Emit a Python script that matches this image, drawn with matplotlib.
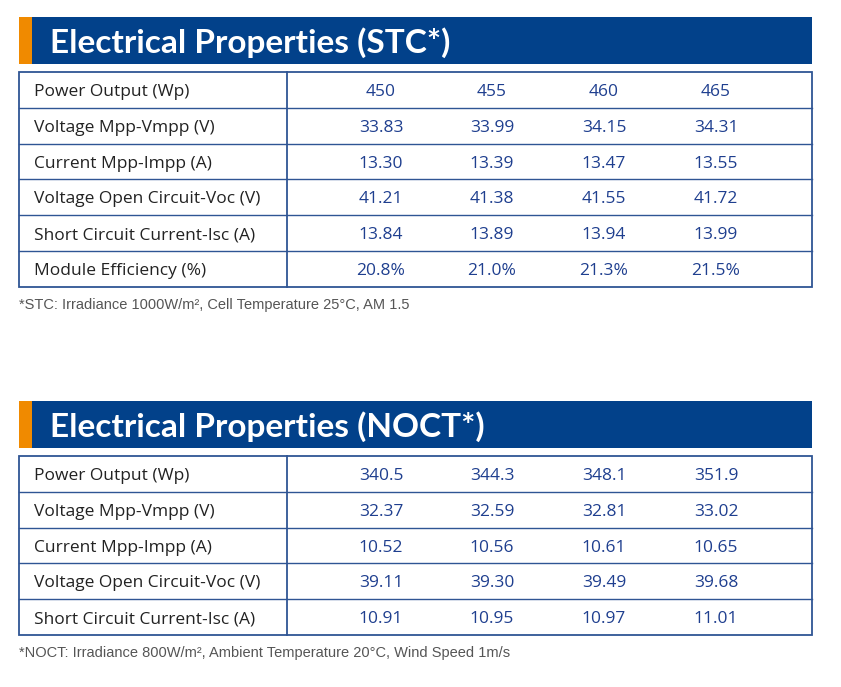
import matplotlib
matplotlib.use("Agg")
import matplotlib.pyplot as plt
from matplotlib.patches import Rectangle

powers = ["450", "455", "460", "465"]
stc_labels = ["Power Output (Wp)", "Voltage Mpp-Vmpp (V)", "Current Mpp-Impp (A)",
              "Voltage Open Circuit-Voc (V)", "Short Circuit Current-Isc (A)", "Module Efficiency (%)"]
stc_vmpp = ["33.83", "33.99", "34.15", "34.31"]
stc_impp = ["13.30", "13.39", "13.47", "13.55"]
stc_voc = ["41.21", "41.38", "41.55", "41.72"]
stc_isc = ["13.84", "13.89", "13.94", "13.99"]
stc_eff = ["20.8%", "21.0%", "21.3%", "21.5%"]

noct_labels = ["Power Output (Wp)", "Voltage Mpp-Vmpp (V)", "Current Mpp-Impp (A)",
               "Voltage Open Circuit-Voc (V)", "Short Circuit Current-Isc (A)"]
noct_power = ["340.5", "344.3", "348.1", "351.9"]
noct_vmpp = ["32.37", "32.59", "32.81", "33.02"]
noct_impp = ["10.52", "10.56", "10.61", "10.65"]
noct_voc = ["39.11", "39.30", "39.49", "39.68"]
noct_isc = ["10.91", "10.95", "10.97", "11.01"]

BLUE = "#02418a"
ORANGE = "#f08a00"
LINE = "#2f5594"
VAL = "#1f3f8f"
LAB = "#222222"

fig = plt.figure(figsize=(8.41, 6.87), dpi=100)
ax = fig.add_axes([0, 0, 1, 1])
ax.set_xlim(0, 841); ax.set_ylim(687, 0); ax.axis("off")

colx = [381, 492, 604, 716]

def block(top, title, labels, rows, foot):
    ax.add_patch(Rectangle((19, top), 13, 47, color=ORANGE, lw=0))
    ax.add_patch(Rectangle((32, top), 780, 47, color=BLUE, lw=0))
    ax.text(50, top + 26, title, color="white", fontsize=24, fontweight="bold",
            family="Lato", va="center", ha="left")
    t0 = top + 55
    rh = 35.8
    n = len(labels)
    bottom = t0 + n * rh
    ax.add_patch(Rectangle((19, t0), 793, n * rh, fill=False, ec=LINE, lw=1.3))
    ax.plot([287, 287], [t0, bottom], color=LINE, lw=1.3)
    for i in range(1, n):
        ax.plot([19, 812], [t0 + i * rh] * 2, color=LINE, lw=1.0)
    for i, (lab, vals) in enumerate(zip(labels, rows)):
        y = t0 + (i + 0.5) * rh + 2
        ax.text(34, y, lab, color=LAB, fontsize=12.5, family="Open Sans", va="center", ha="left")
        for x, v in zip(colx, vals):
            ax.text(x, y, v, color=VAL, fontsize=12.5, family="Open Sans", va="center", ha="center")
    ax.text(19, bottom + 18, foot, color="#555555", fontsize=10.5, family="Liberation Sans",
            va="center", ha="left")

block(17, "Electrical Properties (STC*)", stc_labels,
      [powers, stc_vmpp, stc_impp, stc_voc, stc_isc, stc_eff],
      "*STC: Irradiance 1000W/m², Cell Temperature 25°C, AM 1.5")
block(401, "Electrical Properties (NOCT*)", noct_labels,
      [noct_power, noct_vmpp, noct_impp, noct_voc, noct_isc],
      "*NOCT: Irradiance 800W/m², Ambient Temperature 20°C, Wind Speed 1m/s")

fig.savefig("out.png", dpi=100)
